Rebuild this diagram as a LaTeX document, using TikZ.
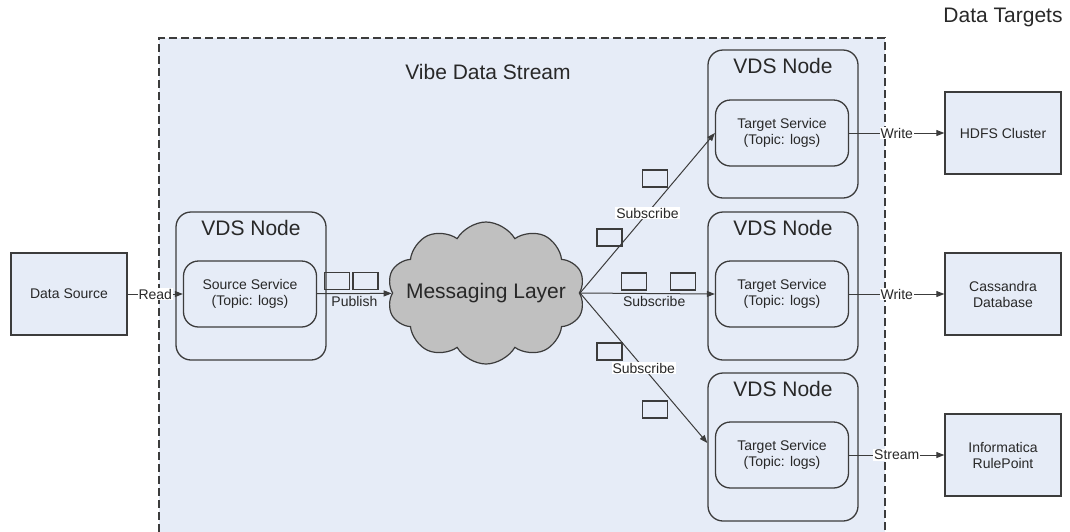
\documentclass[tikz,border=0pt]{standalone}
\usepackage{fontspec}
\setmainfont{Liberation Sans}
\usetikzlibrary{positioning, arrows.meta, shapes.symbols}
\definecolor{vdsfill}{RGB}{230,236,247}
\definecolor{vdsline}{RGB}{60,60,60}
\definecolor{vdstext}{RGB}{40,40,40}
\definecolor{cloudgray}{RGB}{192,192,192}
\tikzset{
>={Triangle[length=8pt,width=6pt]}, % arrow tip of every connector
smalltext/.style={font=\fontsize{14}{16}\selectfont, text=vdstext}, % services, boxes and edge labels
bigtext/.style={font=\fontsize{21}{24}\selectfont, text=vdstext}, % titles
container/.style={draw=vdsline, fill=vdsfill, line width=1.3pt, dash pattern=on 8pt off 4pt},
target/.style={draw=vdsline, line width=1.3pt, fill=vdsfill, minimum width=116pt, minimum height=82pt, smalltext, align=center, inner sep=0pt},
vds/.style={draw=vdsline, line width=1.3pt, rounded corners=15pt, minimum width=150pt, minimum height=148pt, inner sep=0pt},
service/.style={draw=vdsline, line width=1.3pt, rounded corners=15pt, minimum width=133pt, minimum height=66pt, smalltext, align=center, inner sep=0pt},
msg/.style={draw=vdsline, line width=1.2pt, minimum width=25pt, minimum height=17pt, inner sep=0pt},
flow/.style={->, draw=vdsline, line width=1pt},
tag/.style={smalltext, fill=white, inner sep=1pt},
}

\begin{document}
\begin{tikzpicture}[x=1pt, y=-1pt]
    \useasboundingbox (0,0) rectangle (1070,531);
    \node[container, minimum width=726pt, minimum height=510pt] (vibe) at (522,293) {};
    \node[bigtext] (vibet) at (488,72) {Vibe Data Stream};
    \node[bigtext] (targets) at (1003,17) {Data Targets};

    % source side
    \node[target] (dsrc) at (69,294) {Data Source};
    \node[vds] (vdsS) at (251,286) {};
    \node[bigtext, inner sep=0pt, below=9pt of vdsS.north] (vdsSt) {VDS Node};
    \node[service] (srcsvc) at (250,294) {Source Service\\(Topic: logs)};

    % the cloud is drawn empty, its text goes on top
    \node[cloud, cloud puffs=10, cloud puff arc=120, aspect=1.45, draw=vdsline, fill=cloudgray, line width=1.2pt,
          minimum width=198pt, minimum height=142pt, inner sep=0pt] (cloud) at (486,293) {};
    \node[bigtext] (cloudt) at (cloud.center) {Messaging Layer};

    % target side
    \node[vds] (vdsA) at (783,124) {};
    \node[vds] (vdsB) at (783,286) {};
    \node[vds] (vdsC) at (783,447) {};
    \node[bigtext, inner sep=0pt, below=9pt of vdsA.north] (vdsAt) {VDS Node};
    \node[bigtext, inner sep=0pt, below=9pt of vdsB.north] (vdsBt) {VDS Node};
    \node[bigtext, inner sep=0pt, below=9pt of vdsC.north] (vdsCt) {VDS Node};
    \node[service] (tsA) at (782,133) {Target Service\\(Topic: logs)};
    \node[service] (tsB) at (782,294) {Target Service\\(Topic: logs)};
    \node[service] (tsC) at (782,455) {Target Service\\(Topic: logs)};

    \node[target] (hdfs) at (1003,133) {HDFS Cluster};
    \node[target] (cass) at (1003,294) {Cassandra\\Database};
    \node[target] (rule) at (1003,455) {Informatica\\RulePoint};

    % messages on the wire
    \foreach \x/\y [count=\i] in {337/281, 365.5/281, 634/281.5, 683/281.5, 655/178.5, 609.5/237.5, 609.5/351.5, 655/409.5}
        \node[msg] (msg\i) at (\x,\y) {};

    \coordinate (inC) at (vdsC.west |- tsC.west);

    \draw[flow] (dsrc) -- node[tag] {Read} (srcsvc);
    \draw[flow] (srcsvc) -- node[smalltext, below, inner sep=2pt] {Publish} (cloud);
    \draw[flow] (cloud.east) -- node[tag] {Subscribe} (tsA.west);
    \draw[flow] (cloud.east) -- node[smalltext, below, pos=0.55, inner sep=2pt] {Subscribe} (tsB.west);
    \draw[flow] (cloud.east) -- node[tag] {Subscribe} ([yshift=12pt]inC);
    \draw[flow] (tsA) -- node[tag] {Write} (hdfs);
    \draw[flow] (tsB) -- node[tag] {Write} (cass);
    \draw[flow] (tsC) -- node[tag] {Stream} (rule);
\end{tikzpicture}
\end{document}
